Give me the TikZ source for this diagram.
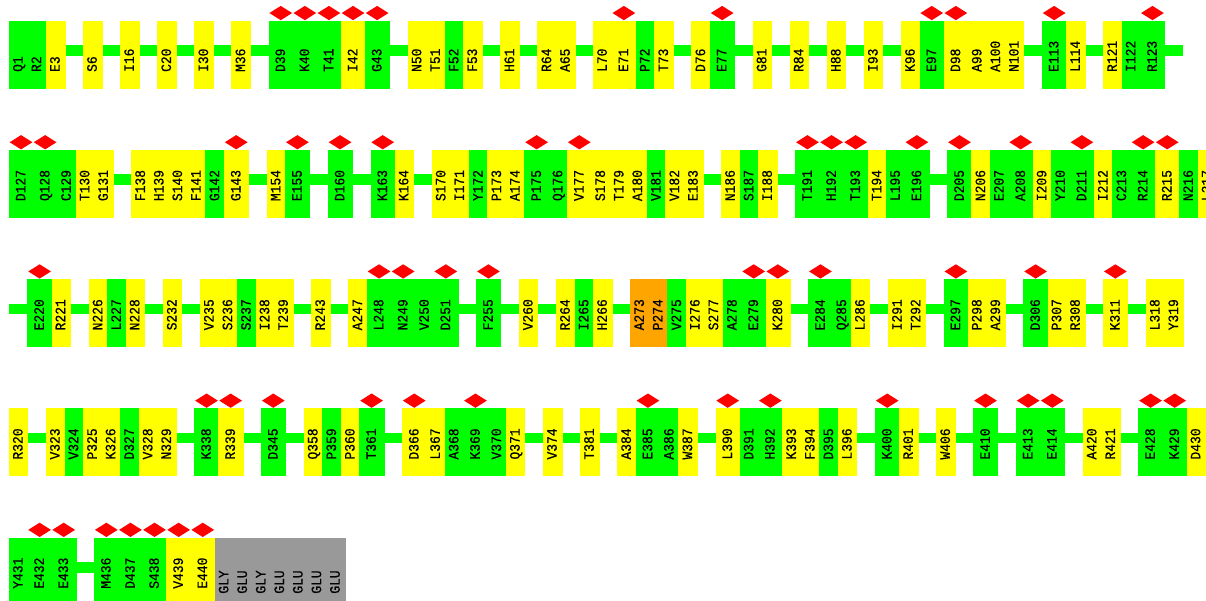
\documentclass[tikz,border=0pt]{standalone}
\usepackage{fontspec}
\usetikzlibrary{shapes.geometric,backgrounds}
\newfontfamily\resfont[FakeBold=0.5,FakeStretch=0.9]{Liberation Mono}
\definecolor{resgreen}{HTML}{00FF00}
\definecolor{resyellow}{HTML}{FFFF00}
\definecolor{resorange}{HTML}{FFA500}
\definecolor{resgray}{HTML}{999999}
\definecolor{resred}{HTML}{FF0000}
\newdimen\curx
\newdimen\currow
\newcommand\resnarrow{18.55pt}
\newcommand\reswide{24.1pt}
\tikzset{
  resbox/.style={rectangle, inner sep=0pt, outer sep=0pt, minimum height=66.7pt,
    anchor=north west, fill=#1, draw=#1, line width=0.3pt},
  reslbl/.style={font=\resfont\fontsize{14.4pt}{15pt}\selectfont, rotate=90, anchor=west,
    inner sep=0pt, outer sep=0pt, text height=8.6pt, text depth=0pt},
  resmark/.style={diamond, fill=resred, draw=none, inner sep=0pt, outer sep=0pt,
    minimum width=22.7pt, minimum height=14.3pt, anchor=south},
  backbone/.style={draw=resgreen, line width=10.7pt}
}
\newcommand\placeres[5]{%
  \node[resbox=#3, minimum width=#4] (#1) at (\the\curx,\the\currow) {};
  \node[reslbl] (#1-t) at ([yshift=#5]#1.south) {#2};
  \global\advance\curx by #4\relax}
\newcommand\resg[1]{\placeres{#1}{#1}{resgreen}{\resnarrow}{15.8pt}}
\newcommand\resy[1]{\placeres{#1}{#1}{resyellow}{\resnarrow}{15.8pt}}
\newcommand\reso[1]{\placeres{#1}{#1}{resorange}{\resnarrow}{15.8pt}}
\newcommand\resG[1]{\placeres{#1}{#1}{resgreen}{\reswide}{15.8pt}%
  \node[resmark] (#1-m) at ([yshift=0.8pt]#1.north) {};}
\newcommand\resY[1]{\placeres{#1}{#1}{resyellow}{\reswide}{15.8pt}%
  \node[resmark] (#1-m) at ([yshift=0.8pt]#1.north) {};}
\newcommand\resx[2]{\placeres{#1}{#2}{resgray}{\resnarrow}{10.8pt}}
\newcommand\resgap{\global\advance\curx by \resnarrow\relax}
\newcommand\rowstart[2]{\global\curx=9pt\relax\global\currow=#2\relax
  \coordinate (row#1a) at ([yshift=-29.5pt]\the\curx,\the\currow);}
\newcommand\rowend[1]{\coordinate (row#1b) at ([yshift=-29.5pt]\the\curx,\the\currow);}

\begin{document}
\begin{tikzpicture}
\useasboundingbox (0pt,0pt) rectangle (1206pt,-601pt);
\clip (0pt,0pt) rectangle (1206pt,-601pt);

% ---- row 1
\rowstart{1}{-21pt}
\resg{Q1}\resg{R2}\resy{E3}\resgap
\resy{S6}\resgap
\resy{I16}\resgap
\resy{C20}\resgap
\resy{I30}\resgap
\resy{M36}\resgap
\resG{D39}\resG{K40}\resG{T41}\resY{I42}\resG{G43}\resgap
\resy{N50}\resy{T51}\resg{F52}\resy{F53}\resgap
\resy{H61}\resgap
\resy{R64}\resy{A65}\resgap
\resy{L70}\resY{E71}\resg{P72}\resy{T73}\resgap
\resy{D76}\resG{E77}\resgap
\resy{G81}\resgap
\resy{R84}\resgap
\resy{H88}\resgap
\resy{I93}\resgap
\resy{K96}\resG{E97}\resY{D98}\resy{A99}\resy{A100}\resy{N101}\resgap
\resG{E113}\resy{L114}\resgap
\resy{R121}\resg{I122}\resG{R123}\resgap
\rowend{1}

% ---- row 2
\rowstart{2}{-150.2pt}
\resG{D127}\resG{Q128}\resg{C129}\resy{T130}\resy{G131}\resgap
\resy{F138}\resy{H139}\resy{S140}\resy{F141}\resg{G142}\resY{G143}\resgap
\resy{M154}\resG{E155}\resgap
\resG{D160}\resgap
\resG{K163}\resy{K164}\resgap
\resy{S170}\resy{I171}\resg{Y172}\resy{P173}\resy{A174}\resG{P175}\resg{Q176}\resY{V177}\resy{S178}\resy{T179}\resy{A180}\resg{V181}\resy{V182}\resy{E183}\resgap
\resy{N186}\resg{S187}\resy{I188}\resgap
\resG{T191}\resG{H192}\resG{T193}\resy{T194}\resg{L195}\resG{E196}\resgap
\resG{D205}\resy{N206}\resg{E207}\resG{A208}\resy{I209}\resg{Y210}\resG{D211}\resy{I212}\resg{C213}\resG{R214}\resY{R215}\resg{N216}\resy{L217}
\rowend{2}

% ---- row 3
\rowstart{3}{-279.4pt}
\resgap
\resG{E220}\resy{R221}\resgap
\resy{N226}\resg{L227}\resy{N228}\resgap
\resy{S232}\resgap
\resy{V235}\resy{S236}\resg{S237}\resy{I238}\resy{T239}\resgap
\resy{R243}\resgap
\resy{A247}\resG{L248}\resG{N249}\resg{V250}\resG{D251}\resgap
\resG{F255}\resgap
\resy{V260}\resgap
\resy{R264}\resg{I265}\resy{H266}\resgap
\reso{A273}\reso{P274}\resg{V275}\resy{I276}\resy{S277}\resg{A278}\resG{E279}\resY{K280}\resgap
\resG{E284}\resg{Q285}\resy{L286}\resgap
\resy{I291}\resy{T292}\resgap
\resG{E297}\resy{P298}\resy{A299}\resgap
\resG{D306}\resy{P307}\resy{R308}\resgap
\resY{K311}\resgap
\resy{L318}\resy{Y319}
\rowend{3}

% ---- row 4
\rowstart{4}{-408.6pt}
\resy{R320}\resgap
\resy{V323}\resg{V324}\resy{P325}\resy{K326}\resg{D327}\resy{V328}\resy{N329}\resgap
\resG{K338}\resY{R339}\resgap
\resG{D345}\resgap
\resy{Q358}\resg{P359}\resy{P360}\resG{T361}\resgap
\resY{D366}\resy{L367}\resg{A368}\resG{K369}\resg{V370}\resy{Q371}\resgap
\resy{V374}\resgap
\resy{T381}\resgap
\resy{A384}\resG{E385}\resg{A386}\resy{W387}\resgap
\resY{L390}\resg{D391}\resG{H392}\resy{K393}\resy{F394}\resg{D395}\resy{L396}\resgap
\resG{K400}\resy{R401}\resgap
\resy{W406}\resgap
\resG{E410}\resgap
\resG{E413}\resG{E414}\resgap
\resy{A420}\resy{R421}\resgap
\resG{E428}\resG{K429}\resy{D430}
\rowend{4}

% ---- row 5
\rowstart{5}{-537.8pt}
\resg{Y431}\resG{E432}\resG{E433}\resgap
\resG{M436}\resG{D437}\resG{S438}\resY{V439}\resY{E440}
\rowend{5}
\resx{x1}{GLY}\resx{x2}{GLU}\resx{x3}{GLY}\resx{x4}{GLU}\resx{x5}{GLU}\resx{x6}{GLU}\resx{x7}{GLU}

\begin{pgfonlayer}{background}
\fill[white] (0pt,0pt) rectangle (1206pt,-601pt);
\draw[backbone] (row1a) -- (row1b);
\draw[backbone] (row2a) -- (row2b);
\draw[backbone] (row3a) -- (row3b);
\draw[backbone] (row4a) -- (row4b);
\draw[backbone] (row5a) -- (row5b);
\end{pgfonlayer}
\end{tikzpicture}
\end{document}
